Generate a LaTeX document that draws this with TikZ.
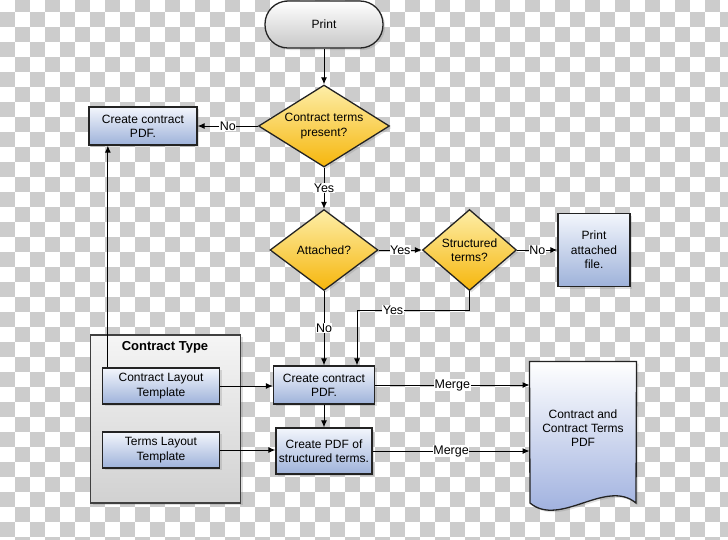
\documentclass[tikz,border=0pt]{standalone}
\usepackage{fontspec}
\setmainfont{Liberation Sans}
\usetikzlibrary{arrows.meta,shapes.geometric,shadows}
\definecolor{boxtop}{RGB}{243,246,252}
\definecolor{boxbot}{RGB}{158,178,218}
\definecolor{ytop}{RGB}{253,238,168}
\definecolor{ybot}{RGB}{246,182,12}
\definecolor{edge}{RGB}{35,35,35}

\begin{document}
\begin{tikzpicture}[x=1pt,y=-1pt,font=\fontsize{12}{14.3}\selectfont,>={Latex[length=7pt,width=6pt]},line width=1pt,
  sh/.style={drop shadow={opacity=0.25,shadow xshift=2pt,shadow yshift=-2pt}},
  b/.style={draw=edge,line width=1.3pt,top color=boxtop,bottom color=boxbot,align=center,inner sep=1pt,sh},
  d/.style={draw=edge,line width=1.3pt,diamond,top color=ytop,bottom color=ybot,align=center,inner sep=0pt,sh},
  l/.style={fill=white,inner sep=0.5pt,font=\fontsize{12.5}{15}\selectfont}]
  % checker background
  \path[use as bounding box,fill=white](0,0) rectangle (728,539);
  \begin{scope}
    \clip(0,0) rectangle (728,539);
    \foreach \j in {0,...,36}{\foreach \i in {0,...,48}{\ifodd\numexpr\i+\j\relax\fill[black!20](15*\i,15*\j-3) rectangle ++(15,15);\fi}}
  \end{scope}
  % contract type group
  \node[draw=black!75,line width=1.3pt,top color=black!4,bottom color=black!18,minimum width=150,minimum height=168,sh](ct) at (165.7,419){};
  \node[font=\bfseries\fontsize{13}{15}\selectfont](ctt) at (165,347){Contract Type};
  % nodes
  \node[draw=edge,line width=1.3pt,rounded corners=23pt,minimum width=118,minimum height=47,top color=white,bottom color=black!22,sh](pr) at (324,24.5){Print};
  \node[d,aspect=1.6,minimum width=131,minimum height=82](d1) at (324,126){Contract terms\\present?};
  \node[b,minimum width=108,minimum height=38](ccpa) at (143,126){Create contract\\PDF.};
  \node[d,aspect=1.33,minimum width=108,minimum height=81](d2) at (324,250){Attached?};
  \node[d,aspect=1.16,minimum width=94,minimum height=81](d3) at (469.5,250){Structured\\terms?};
  \node[b,minimum width=72,minimum height=73](pa) at (594,250){Print\\attached\\file.};
  \node[b,minimum width=117,minimum height=36](clt) at (161,386){Contract Layout\\Template};
  \node[b,minimum width=117,minimum height=36](tlt) at (161,450){Terms Layout\\Template};
  \node[b,minimum width=101,minimum height=38](ccp) at (324,385){Create contract\\PDF.};
  \node[b,minimum width=96,minimum height=46](pdf) at (324,451){Create PDF of\\structured terms.};
  % document shape
  \node[minimum width=106,minimum height=141,align=center](doc) at (583,432.5){};
  \path[draw=edge,line width=1.3pt,top color=white,bottom color=boxbot!95!blue,sh](doc.north west)--(doc.north east)--(636,503)
    .. controls (606,478) and (560,528) .. (530,503)--cycle;
  \node[align=center](doct) at (583,428){Contract and\\Contract Terms\\PDF};
  % connectors
  \coordinate(up) at ([xshift=6]clt.north west);
  \draw[->](pr)--(d1);\draw[->](d1)--node[l]{No}(ccpa);\draw[->](d1)--node[l]{Yes}(d2);
  \draw[->](d2)--node[l]{Yes}(d3);\draw[->](d3)--node[l]{No}(pa);\draw[->](d2)--node[l]{No}(ccp);
  \draw[->](d3.south)--++(0,19)-|node[l,pos=0.34]{Yes}([xshift=33]ccp.north);
  \draw[->](up)--(up|-ccpa.south);
  \draw[->](clt.east)--(clt.east-|ccp.west);\draw[->](tlt.east)--(tlt.east-|pdf.west);\draw[->](ccp)--(pdf);
  \draw[->](ccp.east)--node[l]{Merge}(ccp.east-|doc.west);\draw[->](pdf.east)--node[l]{Merge}(pdf.east-|doc.west);
\end{tikzpicture}
\end{document}
